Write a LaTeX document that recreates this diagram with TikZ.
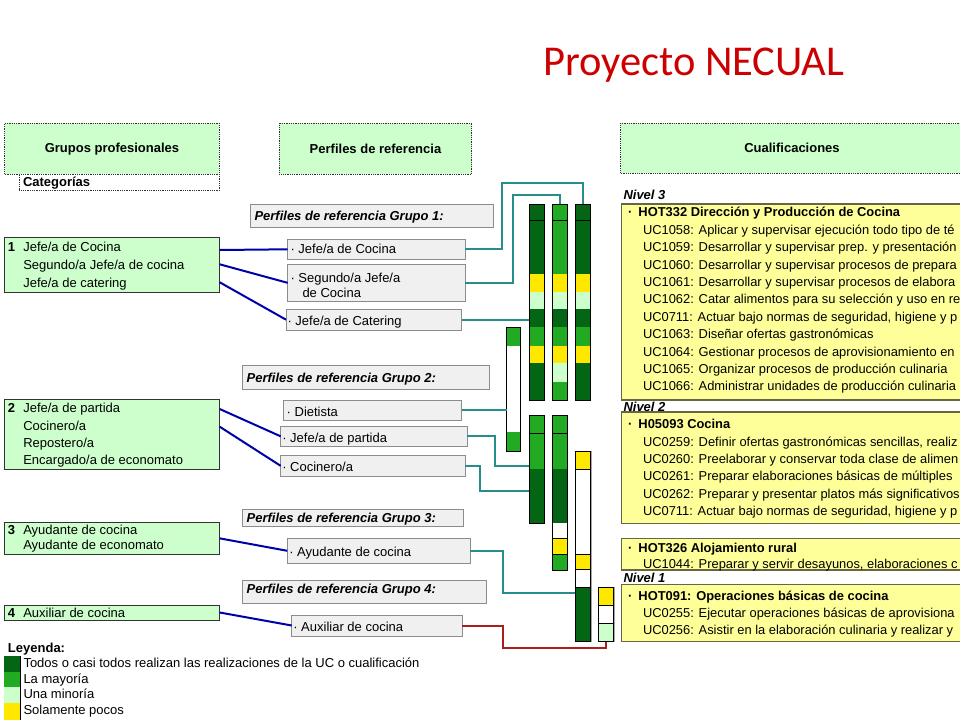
\documentclass[tikz,border=0pt]{standalone}
\usepackage{fontspec}
\setmainfont{Liberation Sans}
\newfontfamily\titlefont{Carlito}
\usetikzlibrary{calc}

\definecolor{dkg}{RGB}{4,102,20}
\definecolor{mdg}{RGB}{34,170,34}
\definecolor{ltg}{RGB}{204,255,204}
\definecolor{ylw}{RGB}{255,232,0}
\definecolor{prog}{RGB}{240,240,240}
\definecolor{prob}{RGB}{140,140,140}
\definecolor{qyl}{RGB}{255,255,153}
\definecolor{qbd}{RGB}{102,102,68}
\definecolor{tealc}{RGB}{38,140,140}
\definecolor{bluec}{RGB}{0,0,170}
\definecolor{redc}{RGB}{170,30,30}
\definecolor{titred}{RGB}{204,0,0}
\definecolor{bdk}{RGB}{50,50,50}

\newcommand\rbx[6]{\node[#1, anchor=north west, inner sep=0pt, outer sep=0pt, minimum width={(#5)-(#3)}, minimum height={(#6)-(#4)}] (#2) at (#3,#4) {};}
\newcommand\seg[5]{\fill[#1] (#2,#4) rectangle (#3,#5);}

\tikzset{
  hdr/.style={draw=bdk, densely dotted, line width=0.8pt, fill=ltg},
  hdrw/.style={draw=bdk, densely dotted, line width=0.8pt, fill=white},
  grp/.style={draw=bdk, line width=0.9pt, fill=ltg},
  pgh/.style={draw=prob, line width=0.9pt, fill=prog},
  prf/.style={draw=prob, line width=0.9pt, fill=prog},
  qbox/.style={draw=qbd, line width=1.2pt, fill=qyl},
  barbd/.style={draw=black, line width=0.7pt},
  txt/.style={inner sep=0pt, outer sep=0pt, font=\fontsize{13}{15}\selectfont, anchor=base west},
  btxt/.style={txt, font=\fontsize{13}{15}\selectfont\bfseries},
  bitxt/.style={txt, font=\fontsize{13}{15}\selectfont\bfseries\itshape},
  qtxt/.style={txt, font=\fontsize{12.9}{15}\selectfont},
  qbtxt/.style={txt, font=\fontsize{12.9}{15}\selectfont\bfseries},
  ctr/.style={inner sep=0pt, font=\fontsize{13}{15}\selectfont\bfseries},
  bl/.style={draw=bluec, line width=2pt},
  tl/.style={draw=tealc, line width=2pt},
  rd/.style={draw=redc, line width=2pt},
}

\begin{document}
\begin{tikzpicture}[x=1pt,y=-1pt]
\useasboundingbox (0,0) rectangle (960,720);

% title
\node[inner sep=0pt, anchor=base west, text=titred, font=\titlefont\fontsize{42.5}{46}\selectfont] (title) at (543,75) {Proyecto NECUAL};

% column headers
\rbx{hdr}{hg}{4.7}{123.3}{219.3}{174}
\node[ctr] (hgt) at (hg.center) {Grupos profesionales};
\rbx{hdrw}{hc}{19.3}{174}{219.3}{190.7}
\node[btxt] (hct) at (23,186) {Categorías};
\rbx{hdr}{hp}{279.3}{123.3}{471.7}{174}
\node[ctr] (hpt) at (hp.center) {Perfiles de referencia};
\rbx{hdr}{hq}{620.7}{123.3}{980}{173.3}
\node[ctr] (hqt) at (792,148.3) {Cualificaciones};

% group boxes
\rbx{grp}{g1}{4.5}{237.7}{219.7}{292.3}
\node[btxt] (g1n) at (8,251.2) {1};
\node[txt] (g1a) at (23.3,251.2) {Jefe/a de Cocina};
\node[txt] (g1b) at (23.3,269.5) {Segundo/a Jefe/a de cocina};
\node[txt] (g1c) at (23.3,287.8) {Jefe/a de catering};

\rbx{grp}{g2}{4.5}{399.3}{219.7}{469}
\node[btxt] (g2n) at (8,412.8) {2};
\node[txt] (g2a) at (23.3,412.8) {Jefe/a de partida};
\node[txt] (g2b) at (23.3,430.1) {Cocinero/a};
\node[txt] (g2c) at (23.3,447.4) {Repostero/a};
\node[txt] (g2d) at (23.3,464.7) {Encargado/a de economato};

\rbx{grp}{g3}{4.5}{522.7}{219.7}{554}
\node[btxt] (g3n) at (8,534.5) {3};
\node[txt] (g3a) at (23.3,534.5) {Ayudante de cocina};
\node[txt] (g3b) at (23.3,549.5) {Ayudante de economato};

\rbx{grp}{g4}{4.5}{605}{219.7}{620}
\node[btxt] (g4n) at (8,617.8) {4};
\node[txt] (g4a) at (23.3,617.8) {Auxiliar de cocina};

% profile group headers
\rbx{pgh}{h1}{250}{204.3}{493.3}{227.3}
\node[bitxt] (h1t) at (254.5,220.5) {Perfiles de referencia Grupo 1:};
\rbx{pgh}{h2}{242.7}{365}{489.3}{389.3}
\node[bitxt] (h2t) at (246.7,382.8) {Perfiles de referencia Grupo 2:};
\rbx{pgh}{h3}{242.7}{509.3}{463.3}{526.7}
\node[bitxt] (h3t) at (246.7,522.8) {Perfiles de referencia Grupo 3:};
\rbx{pgh}{h4}{242.7}{580}{486.7}{603.3}
\node[bitxt] (h4t) at (246.7,593.8) {Perfiles de referencia Grupo 4:};

% profile boxes
\rbx{prf}{p1}{287.7}{239.3}{465}{259.3}
\node[txt] (p1t) at (290.5,253.5) {· Jefe/a de Cocina};
\rbx{prf}{p2}{287.7}{264}{465}{301.7}
\node[txt] (p2t) at (290.5,282.8) {· Segundo/a Jefe/a};
\node[txt] (p2u) at (302.5,297.2) {de Cocina};
\rbx{prf}{p3}{286}{309.3}{461.7}{330}
\node[txt] (p3t) at (287.5,325.2) {· Jefe/a de Catering};
\rbx{prf}{p4}{283.3}{400}{461.7}{420}
\node[txt] (p4t) at (286.7,416.2) {· Dietista};
\rbx{prf}{p5}{280.7}{426}{467.3}{446.7}
\node[txt] (p5t) at (282.3,442.8) {· Jefe/a de partida};
\rbx{prf}{p6}{280.7}{455}{465}{476.7}
\node[txt] (p6t) at (282.3,471.8) {· Cocinero/a};
\rbx{prf}{p7}{287.3}{538.3}{470}{563.3}
\node[txt] (p7t) at (289.3,556.2) {· Ayudante de cocina};
\rbx{prf}{p8}{291.7}{615}{462.3}{636}
\node[txt] (p8t) at (293.3,631.2) {· Auxiliar de cocina};

% qualification boxes
\node[bitxt] (n3) at (623.5,199.5) {Nivel 3};
\rbx{qbox}{q3}{621.7}{204}{980}{400}
\node[qbtxt] (q3h) at (628,216.8) {·\hspace{6.2pt}HOT332 Dirección y Producción de Cocina};
\node[qtxt] (q3a) at (643,234.2) {UC1058: Aplicar y supervisar ejecución todo tipo de té};
\node[qtxt] (q3b) at (643,251.6) {UC1059: Desarrollar y supervisar prep. y presentación};
\node[qtxt] (q3c) at (643,269.0) {UC1060: Desarrollar y supervisar procesos de prepara};
\node[qtxt] (q3d) at (643,286.4) {UC1061: Desarrollar y supervisar procesos de elabora};
\node[qtxt] (q3e) at (643,303.8) {UC1062: Catar alimentos para su selección y uso en re};
\node[qtxt] (q3f) at (643,321.2) {UC0711: Actuar bajo normas de seguridad, higiene y p};
\node[qtxt] (q3g) at (643,338.6) {UC1063: Diseñar ofertas gastronómicas};
\node[qtxt] (q3i) at (643,356.0) {UC1064: Gestionar procesos de aprovisionamiento en};
\node[qtxt] (q3j) at (643,373.4) {UC1065: Organizar procesos de producción culinaria};
\node[qtxt] (q3k) at (643,390.8) {UC1066: Administrar unidades de producción culinaria};

\node[bitxt] (n2) at (623.5,411.2) {Nivel 2};
\rbx{qbox}{q2}{621.7}{412}{980}{523.3}
\node[qbtxt] (q2h) at (628,428.8) {·\hspace{6.2pt}H05093 Cocina};
\node[qtxt] (q2a) at (643,446.1) {UC0259: Definir ofertas gastronómicas sencillas, realiz};
\node[qtxt] (q2b) at (643,463.4) {UC0260: Preelaborar y conservar toda clase de alimen};
\node[qtxt] (q2c) at (643,480.7) {UC0261: Preparar elaboraciones básicas de múltiples};
\node[qtxt] (q2d) at (643,498.0) {UC0262: Preparar y presentar platos más significativos};
\node[qtxt] (q2e) at (643,515.3) {UC0711: Actuar bajo normas de seguridad, higiene y p};

\rbx{qbox}{q26}{621.7}{538.3}{980}{570}
\node[qbtxt] (q26h) at (628,552.2) {·\hspace{6.2pt}HOT326 Alojamiento rural};
\node[qtxt] (q26a) at (643,568.8) {UC1044: Preparar y servir desayunos, elaboraciones c};

\node[bitxt] (n1) at (623.5,582.2) {Nivel 1};
\rbx{qbox}{q1}{621.7}{584.3}{980}{641.7}
\node[qbtxt] (q1h) at (628,600.5) {·\hspace{6.2pt}HOT091: Operaciones básicas de cocina};
\node[qtxt] (q1a) at (643,617.0) {UC0255: Ejecutar operaciones básicas de aprovisiona};
\node[qtxt] (q1b) at (643,634.5) {UC0256: Asistir en la elaboración culinaria y realizar y};

% bars: level 3
\seg{dkg}{529.3}{544}{204.3}{274}
\seg{ylw}{529.3}{544}{274}{292}
\seg{ltg}{529.3}{544}{292}{309.3}
\seg{dkg}{529.3}{544}{309.3}{327.3}
\seg{mdg}{529.3}{544}{327.3}{345.7}
\seg{ylw}{529.3}{544}{345.7}{363.3}
\seg{dkg}{529.3}{544}{363.3}{400}
\rbx{barbd}{barA3}{529.3}{204.3}{544}{400}
\draw[barbd] (barA3.west |- 0,220.7) -- (barA3.east |- 0,220.7);

\seg{mdg}{552.7}{567.3}{204.3}{274}
\seg{ylw}{552.7}{567.3}{274}{292}
\seg{ltg}{552.7}{567.3}{292}{309.3}
\seg{dkg}{552.7}{567.3}{309.3}{327.3}
\seg{mdg}{552.7}{567.3}{327.3}{345.7}
\seg{ylw}{552.7}{567.3}{345.7}{363.3}
\seg{ltg}{552.7}{567.3}{363.3}{381.7}
\seg{mdg}{552.7}{567.3}{381.7}{400}
\rbx{barbd}{barB3}{552.7}{204.3}{567.3}{400}
\draw[barbd] (barB3.west |- 0,220.7) -- (barB3.east |- 0,220.7);

\seg{dkg}{575.3}{590}{204.3}{274}
\seg{ylw}{575.3}{590}{274}{292}
\seg{ltg}{575.3}{590}{292}{309.3}
\seg{dkg}{575.3}{590}{309.3}{327.3}
\seg{mdg}{575.3}{590}{327.3}{345.7}
\seg{ylw}{575.3}{590}{345.7}{363.3}
\seg{dkg}{575.3}{590}{363.3}{400}
\rbx{barbd}{barC3}{575.3}{204.3}{590}{400}
\draw[barbd] (barC3.west |- 0,220.7) -- (barC3.east |- 0,220.7);

\seg{mdg}{506.7}{520.7}{327.7}{345.7}
\seg{white}{506.7}{520.7}{345.7}{432.3}
\seg{mdg}{506.7}{520.7}{432.3}{451}
\rbx{barbd}{barD}{506.7}{327.7}{520.7}{451}

% bars: level 2
\seg{mdg}{529.3}{544}{415}{469}
\seg{dkg}{529.3}{544}{469}{523.3}
\rbx{barbd}{barA2}{529.3}{415}{544}{523.3}
\draw[barbd] (barA2.west |- 0,433.3) -- (barA2.east |- 0,433.3);

\seg{mdg}{552.7}{567.3}{415}{469}
\seg{dkg}{552.7}{567.3}{469}{523.3}
\seg{white}{552.7}{567.3}{523.3}{538.3}
\seg{ylw}{552.7}{567.3}{538.3}{554.3}
\seg{mdg}{552.7}{567.3}{554.3}{570}
\rbx{barbd}{barB2}{552.7}{415}{567.3}{570}
\draw[barbd] (barB2.west |- 0,433.3) -- (barB2.east |- 0,433.3);
\draw[barbd] (barB2.west |- 0,538.3) -- (barB2.east |- 0,538.3);
\draw[barbd] (barB2.west |- 0,554.3) -- (barB2.east |- 0,554.3);

\draw[gray!70, line width=1.6pt] (590.8,451) -- (590.8,641.7);
\rbx{barbd, fill=ylw}{c1a}{575.3}{451}{590}{469.3}
\rbx{barbd, fill=white}{c1b}{575.3}{469.3}{590}{554}
\rbx{barbd, fill=ylw}{c1c}{575.3}{554}{590}{569.3}
\rbx{barbd, fill=white}{c1d}{575.3}{569.3}{590}{587.3}
\rbx{barbd, fill=dkg}{c1e}{575.3}{587.3}{590}{641.7}

\draw[gray!70, line width=1.6pt] (614.1,587.3) -- (614.1,641.7);
\rbx{barbd, fill=ylw}{e1a}{598.3}{587.3}{613.3}{605.7}
\rbx{barbd, fill=white}{e1b}{598.3}{605.7}{613.3}{623.3}
\rbx{barbd, fill=ltg}{e1c}{598.3}{623.3}{613.3}{641.7}

% coordinates for connector bends
\coordinate (k1) at (501.7,182.7);
\coordinate (k2) at (513.3,195);
\coordinate (k5) at (495,465.7);
\coordinate (k6) at (480,491);
\coordinate (k7) at (503,592.7);
\coordinate (k8) at (503.3,648.3);

% teal connectors
\draw[tl] (p1.east) -| (k1) -| (barC3.north);
\draw[tl] (p2.east) -| (k2) -| (barB3.north);
\draw[tl] (p3.east) -- (p3.east -| barA3.west);
\draw[tl] (p4.east) -- (p4.east -| barD.west);
\draw[tl] (p5.east) -| (k5) -- (k5 -| barA2.west);
\draw[tl] (p6.east) -| (k6) -- (k6 -| barA2.west);
\draw[tl] (p7.east) -| (k7) -- (k7 -| c1e.west);
\draw[rd] (p8.east) -| (k8) -| (e1c.south);

% blue connectors
\draw[bl] ([yshift=-12.3pt]g1.north east) -- (p1.west);
\draw[bl] ([yshift=-26.6pt]g1.north east) -- (p2.west);
\draw[bl] ([yshift=-44.6pt]g1.north east) -- (p3.west);
\draw[bl] ([yshift=-9.7pt]g2.north east) -- (p5.west);
\draw[bl] ([yshift=-27.4pt]g2.north east) -- (p6.west);
\draw[bl] (g3.east) -- (p7.west);
\draw[bl] (g4.east) -- (p8.west);

% legend
\node[btxt] (leg) at (8,652) {Leyenda:};
\rbx{fill=dkg}{l1}{4}{656}{20}{671.5}
\rbx{fill=mdg}{l2}{4}{671.5}{20}{687}
\rbx{fill=ltg}{l3}{4}{687}{20}{702.5}
\rbx{fill=ylw}{l4}{4}{702.5}{20}{720}
\draw[black, line width=0.8pt] (l1.north east) -- (l4.south east);
\node[txt] (l1t) at (23.5,667.7) {Todos o casi todos realizan las realizaciones de la UC o cualificación};
\node[txt] (l2t) at (23.5,683.2) {La mayoría};
\node[txt] (l3t) at (23.5,698.7) {Una minoría};
\node[txt] (l4t) at (23.5,714.2) {Solamente pocos};
\end{tikzpicture}
\end{document}
